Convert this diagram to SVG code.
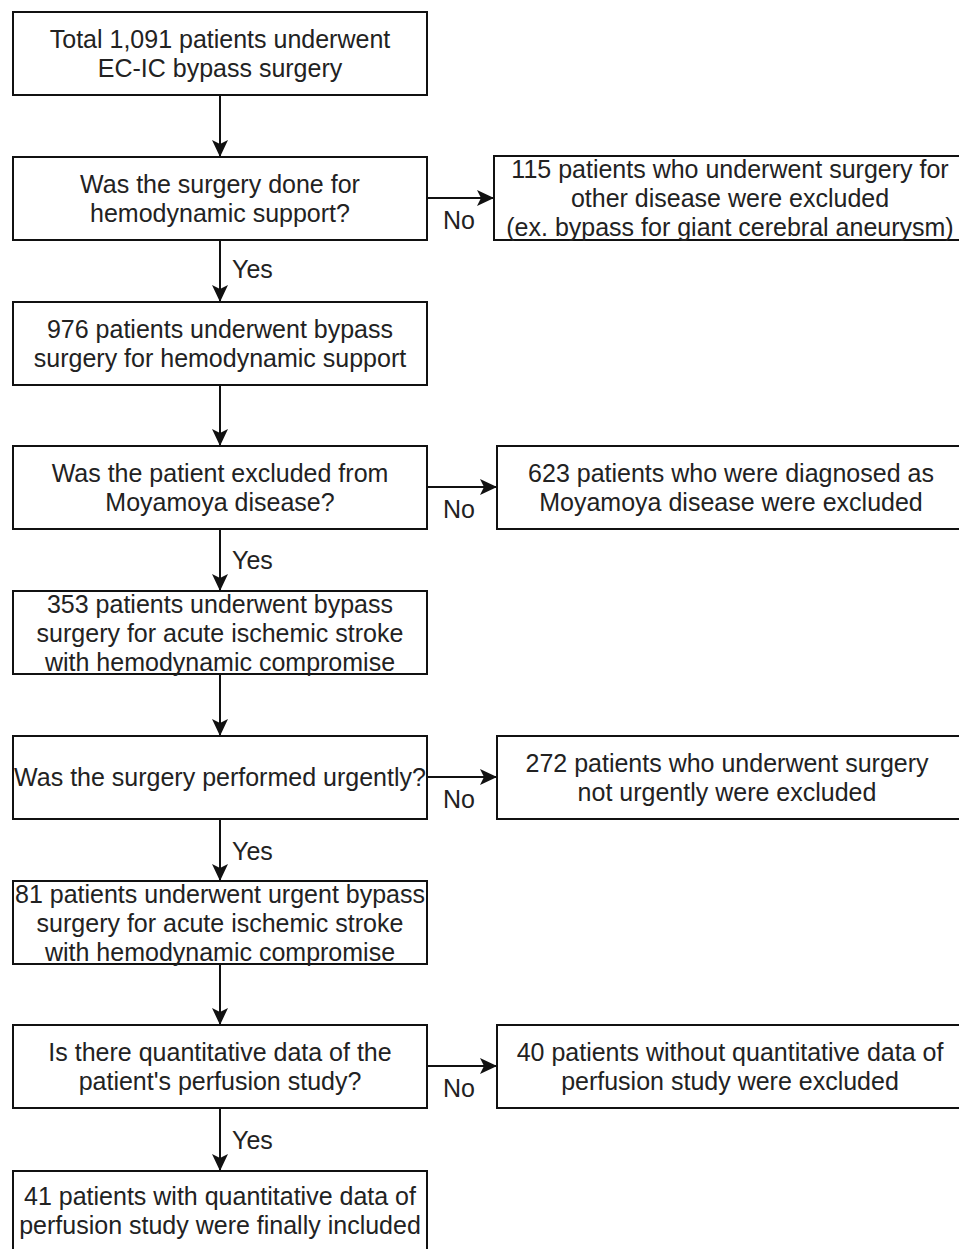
<svg xmlns="http://www.w3.org/2000/svg" width="959" height="1249" viewBox="0 0 959 1249">
<style>
.box{fill:#fff;stroke:#111;stroke-width:2}
.t{font-family:"Liberation Sans",Arial,sans-serif;font-size:25px;fill:#222;text-anchor:middle}
.l{font-family:"Liberation Sans",Arial,sans-serif;font-size:25px;fill:#222}
.c{stroke:#111;stroke-width:2;fill:none;marker-end:url(#ah)}
</style>
<defs>
<marker id="ah" markerUnits="userSpaceOnUse" markerWidth="20" markerHeight="20" viewBox="-19 -10 20 20" refX="0" refY="0" orient="auto">
<path d="M0,0 L-17,-8 L-13,0 L-17,8 Z" fill="#111"/>
</marker>
</defs>
<rect width="959" height="1249" fill="#fff"/>
<g id="connectors">
<line class="c" x1="220" y1="95" x2="220" y2="157"/>
<line class="c" x1="220" y1="240" x2="220" y2="302"/>
<line class="c" x1="220" y1="385" x2="220" y2="446"/>
<line class="c" x1="220" y1="529" x2="220" y2="591"/>
<line class="c" x1="220" y1="674" x2="220" y2="736"/>
<line class="c" x1="220" y1="819" x2="220" y2="881"/>
<line class="c" x1="220" y1="964" x2="220" y2="1025"/>
<line class="c" x1="220" y1="1108" x2="220" y2="1171"/>
<line class="c" x1="427" y1="198" x2="494" y2="198"/>
<line class="c" x1="427" y1="487" x2="497" y2="487"/>
<line class="c" x1="427" y1="777" x2="497" y2="777"/>
<line class="c" x1="427" y1="1066" x2="497" y2="1066"/>
<text class="l" x="232" y="278">Yes</text>
<text class="l" x="232" y="569">Yes</text>
<text class="l" x="232" y="860">Yes</text>
<text class="l" x="232" y="1149">Yes</text>
<text class="l" x="443" y="229">No</text>
<text class="l" x="443" y="518">No</text>
<text class="l" x="443" y="808">No</text>
<text class="l" x="443" y="1097">No</text>
</g>
<g id="n1"><rect class="box" x="13" y="12" width="414" height="83"/>
<text class="t" x="220" y="48">Total 1,091 patients underwent</text>
<text class="t" x="220" y="77">EC-IC bypass surgery</text></g>
<g id="n2"><rect class="box" x="13" y="157" width="414" height="83"/>
<text class="t" x="220" y="193">Was the surgery done for</text>
<text class="t" x="220" y="222">hemodynamic support?</text></g>
<g id="n3"><rect class="box" x="13" y="302" width="414" height="83"/>
<text class="t" x="220" y="338">976 patients underwent bypass</text>
<text class="t" x="220" y="367">surgery for hemodynamic support</text></g>
<g id="n4"><rect class="box" x="13" y="446" width="414" height="83"/>
<text class="t" x="220" y="482">Was the patient excluded from</text>
<text class="t" x="220" y="511">Moyamoya disease?</text></g>
<g id="n5"><rect class="box" x="13" y="591" width="414" height="83"/>
<text class="t" x="220" y="613">353 patients underwent bypass</text>
<text class="t" x="220" y="642">surgery for acute ischemic stroke</text>
<text class="t" x="220" y="671">with hemodynamic compromise</text></g>
<g id="n6"><rect class="box" x="13" y="736" width="414" height="83"/>
<text class="t" x="220" y="786">Was the surgery performed urgently?</text></g>
<g id="n7"><rect class="box" x="13" y="881" width="414" height="83"/>
<text class="t" x="220" y="903">81 patients underwent urgent bypass</text>
<text class="t" x="220" y="932">surgery for acute ischemic stroke</text>
<text class="t" x="220" y="961">with hemodynamic compromise</text></g>
<g id="n8"><rect class="box" x="13" y="1025" width="414" height="83"/>
<text class="t" x="220" y="1061">Is there quantitative data of the</text>
<text class="t" x="220" y="1090">patient's perfusion study?</text></g>
<g id="n9"><rect class="box" x="13" y="1171" width="414" height="84"/>
<text class="t" x="220" y="1205">41 patients with quantitative data of</text>
<text class="t" x="220" y="1234">perfusion study were finally included</text></g>
<g id="e1"><rect class="box" x="494" y="156" width="470" height="84"/>
<text class="t" x="730" y="178">115 patients who underwent surgery for</text>
<text class="t" x="730" y="207">other disease were excluded</text>
<text class="t" x="730" y="236">(ex. bypass for giant cerebral aneurysm)</text></g>
<g id="e2"><rect class="box" x="497" y="446" width="467" height="83"/>
<text class="t" x="731" y="482">623 patients who were diagnosed as</text>
<text class="t" x="731" y="511">Moyamoya disease were excluded</text></g>
<g id="e3"><rect class="box" x="497" y="736" width="467" height="83"/>
<text class="t" x="727" y="772">272 patients who underwent surgery</text>
<text class="t" x="727" y="801">not urgently were excluded</text></g>
<g id="e4"><rect class="box" x="497" y="1025" width="467" height="83"/>
<text class="t" x="730" y="1061">40 patients without quantitative data of</text>
<text class="t" x="730" y="1090">perfusion study were excluded</text></g>
</svg>
